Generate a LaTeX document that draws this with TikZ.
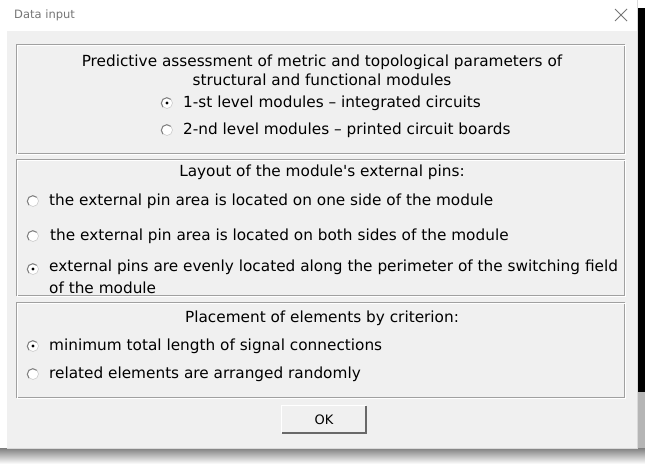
\documentclass[tikz,border=0pt]{standalone}
\usepackage{fontspec}
\newfontfamily\ui{DejaVu Sans}
\definecolor{dlg}{HTML}{F0F0F0}
\definecolor{etch}{HTML}{A0A0A0}
\definecolor{shade}{HTML}{A3A3A3}
\definecolor{titlegray}{HTML}{767676}
\definecolor{rdark}{HTML}{808080}
\definecolor{btndark}{HTML}{696969}
\tikzset{
  lbl/.style={anchor=west, inner sep=0pt, font=\ui\fontsize{15.3}{18}\selectfont},
  head/.style={anchor=center, inner sep=0pt, font=\ui\fontsize{15.3}{18}\selectfont},
  radio/.style={circle, minimum size=11pt, inner sep=0pt, fill=white, draw=rdark!40, line width=0.6pt},
  gbox/.style={draw=etch, line width=1pt},
  ghi/.style={draw=white, line width=1pt},
}
\newcommand\radioshade[1]{\draw[rdark, line width=1pt] (#1.south west) arc[start angle=225, end angle=45, radius=5.5pt];}
\begin{document}
\begin{tikzpicture}[x=1pt,y=-1pt]
\useasboundingbox (0,0) rectangle (645,464);
\fill[white] (0,0) rectangle (645,464);
\fill[shade] (0,448) rectangle (645,464);
\fill[black] (638,8) rectangle (645,392);
\fill[shade!80] (638,392) rectangle (645,448);
\fill[dlg] (7,31) rectangle (637,448);
\draw[white!85!black, line width=0.5pt] (637,0) -- (637,448) -- (7,448);
% title bar
\node[anchor=west, inner sep=0pt, text=titlegray, font=\ui\fontsize{11.5}{13}\selectfont] (title) at (14,15) {Data input};
\coordinate (xc) at (621,15);
\draw[titlegray, line width=0.8pt] ([shift={(-6,-6)}]xc) -- ([shift={(6,6)}]xc) ([shift={(-6,6)}]xc) -- ([shift={(6,-6)}]xc);
% group boxes
\draw[gbox] (16.5,44.5) rectangle (624.5,153.5);
\draw[ghi] (17.5,45.5) rectangle (625.5,154.5);
\draw[gbox] (16.5,159.5) rectangle (624.5,295.5);
\draw[ghi] (17.5,160.5) rectangle (625.5,296.5);
\draw[gbox] (16.5,302.5) rectangle (624.5,397.5);
\draw[ghi] (17.5,303.5) rectangle (625.5,398.5);
% box 1
\node[head] (h1a) at (322,62) {Predictive assessment of metric and topological parameters of};
\node[head] (h1b) at (322,80) {structural and functional modules};
\node[radio] (r1) at (167,103) {}; \radioshade{r1} \fill (r1) circle (1.6pt);
\node[lbl] (t1) at (183,103) {1-st level modules – integrated circuits};
\node[radio] (r2) at (167,130) {}; \radioshade{r2}
\node[lbl] (t2) at (183,130) {2-nd level modules – printed circuit boards};
% box 2
\node[head] (h2) at (322,172) {Layout of the module{\char"0027}s external pins:};
\node[radio] (r3) at (33,201) {}; \radioshade{r3}
\node[lbl] (t3) at (49,201) {the external pin area is located on one side of the module};
\node[radio] (r4) at (33,236) {}; \radioshade{r4}
\node[lbl] (t4) at (50,236) {the external pin area is located on both sides of the module};
\node[radio] (r5) at (33,269) {}; \radioshade{r5} \fill (r5) circle (1.6pt);
\node[lbl] (t5) at (49,267) {external pins are evenly located along the perimeter of the switching field};
\node[lbl] (t5b) at (49,288) {of the module};
% box 3
\node[head] (h3) at (322,318) {Placement of elements by criterion:};
\node[radio] (r6) at (33,346) {}; \radioshade{r6} \fill (r6) circle (1.6pt);
\node[lbl] (t6) at (49,346) {minimum total length of signal connections};
\node[radio] (r7) at (33,374) {}; \radioshade{r7}
\node[lbl] (t7) at (49,374) {related elements are arranged randomly};
% OK button
\node[rectangle, minimum width=84pt, minimum height=27pt, fill=dlg, inner sep=0pt, font=\ui\fontsize{13}{15}\selectfont] (ok) at (324,419.5) {OK};
\draw[white, line width=1pt] (ok.south west) |- (ok.north east);
\draw[btndark, line width=1.5pt] (ok.south west) -| (ok.north east);
\end{tikzpicture}
\end{document}
